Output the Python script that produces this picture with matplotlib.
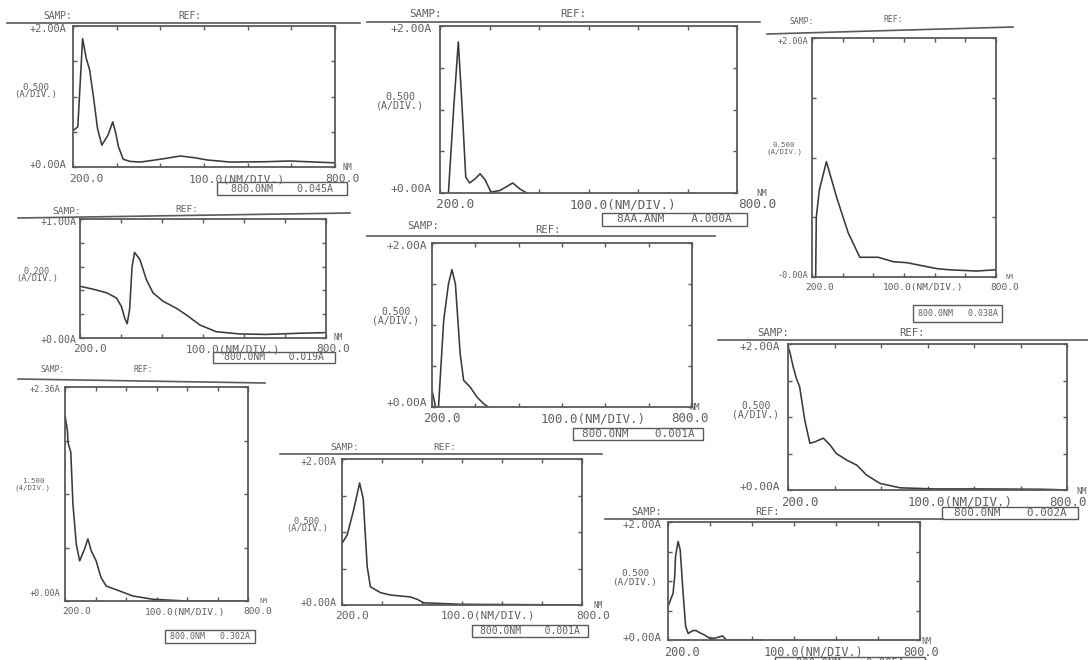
import numpy as np
import matplotlib
matplotlib.use("Agg")
import matplotlib.pyplot as plt
from matplotlib.lines import Line2D
from matplotlib.patches import Rectangle

# ---------------- data (wavelength nm, absorbance A) ----------------
A_nm = [201, 211, 222, 230, 238, 247, 256, 266, 280, 291, 298, 304, 315, 330, 354, 400, 446, 480, 507, 560, 640, 697, 796]
A_abs = [0.52, 0.57, 1.82, 1.55, 1.38, 0.99, 0.55, 0.31, 0.45, 0.64, 0.48, 0.29, 0.11, 0.08, 0.07, 0.11, 0.156, 0.13, 0.10, 0.07, 0.075, 0.085, 0.06]

B_nm = [217, 228, 237, 244, 252, 260, 271, 281, 291, 303, 321, 347, 361, 375]
B_abs = [0.0, 1.05, 1.81, 1.10, 0.19, 0.12, 0.17, 0.23, 0.16, 0.01, 0.03, 0.12, 0.05, 0.0]

C_nm = [212, 214, 224, 247, 280, 318, 356, 416, 465, 509, 607, 650, 737, 797]
C_abs = [0.0, 0.50, 0.73, 0.965, 0.67, 0.37, 0.165, 0.165, 0.128, 0.12, 0.07, 0.06, 0.05, 0.06]

D_nm = [200, 232, 265, 289, 301, 309, 315, 321, 327, 333, 346, 362, 378, 402, 435, 459, 492, 532, 589, 654, 736, 797]
D_abs = [0.435, 0.41, 0.38, 0.336, 0.265, 0.167, 0.12, 0.24, 0.60, 0.72, 0.66, 0.49, 0.38, 0.31, 0.25, 0.195, 0.11, 0.053, 0.034, 0.03, 0.04, 0.045]

E_nm = [200, 205, 208, 215, 227, 238, 246, 254, 265, 273, 288, 304, 319, 330]
E_abs = [0.20, 0.08, 0.0, 0.0, 1.06, 1.50, 1.675, 1.50, 0.65, 0.325, 0.244, 0.12, 0.04, 0.0]

F_nm = [200, 204, 211, 218, 225, 236, 247, 258, 276, 290, 304, 326, 348, 369, 398, 441, 513, 620, 750, 800]
F_abs = [1.96, 1.89, 1.69, 1.53, 1.415, 0.96, 0.64, 0.66, 0.71, 0.62, 0.50, 0.41, 0.34, 0.205, 0.09, 0.03, 0.015, 0.015, 0.01, 0.0]

G_nm = [201, 208, 210, 219, 226, 237, 248, 264, 275, 286, 302, 318, 335, 379, 422, 488, 596, 800]
G_abs = [1.72, 1.59, 1.48, 1.39, 0.906, 0.53, 0.375, 0.485, 0.58, 0.47, 0.375, 0.22, 0.14, 0.094, 0.047, 0.016, 0.0, 0.0]

H_nm = [200, 213, 229, 244, 253, 263, 271, 296, 321, 371, 388, 404, 496, 796]
H_abs = [0.845, 0.96, 1.30, 1.67, 1.46, 0.525, 0.25, 0.17, 0.137, 0.11, 0.078, 0.03, 0.01, 0.0]

I_nm = [200, 212, 216, 218, 224, 229, 236, 242, 248, 259, 267, 275, 287, 299, 311, 330, 339, 426]
I_abs = [0.57, 0.79, 1.08, 1.42, 1.67, 1.53, 0.79, 0.23, 0.11, 0.16, 0.16, 0.125, 0.085, 0.03, 0.03, 0.07, 0.0, 0.0]

# ---------------- text ----------------
top_labels = ["+2.00A", "+2.00A", "+2.00A", "+1.00A", "+2.00A", "+2.00A", "+2.36A", "+2.00A", "+2.00A"]
bottom_labels = ["+0.00A", "+0.00A", "-0.00A", "+0.00A", "+0.00A", "+0.00A", "+0.00A", "+0.00A", "+0.00A"]
scale_labels = ["0.500", "0.500", "0.500", "0.200", "0.500", "0.500", "1.500", "0.500", "0.500"]
unit_labels = ["(A/DIV.)", "(A/DIV.)", "(A/DIV.)", "(A/DIV.)", "(A/DIV.)", "(A/DIV.)", "(4/DIV.)", "(A/DIV.)", "(A/DIV.)"]
readouts = ["800.0NM    0.045A", "8AA.ANM    A.000A", "800.0NM   0.038A", "800.0NM    0.019A",
            "800.0NM    0.001A", "800.0NM    0.002A", "800.0NM   0.302A", "800.0NM    0.001A",
            "800.0NM    0.005A"]

W, H = 1088, 660
fig = plt.figure(figsize=(W / 100, H / 100), dpi=100)
fig.patch.set_facecolor("white")

TXT = "#606060"
LN = "#3a3a3a"
FR = "#5a5a5a"
MONO = "DejaVu Sans Mono"


def fx(x):
    return x / W


def fy(y):
    return 1 - y / H


def txt(x, y, s, fs, ha="center"):
    fig.text(fx(x), fy(y), s, ha=ha, va="center", family=MONO, fontsize=fs, color=TXT)


def hline(x1, y1, x2, y2):
    fig.add_artist(Line2D([fx(x1), fx(x2)], [fy(y1), fy(y2)], transform=fig.transFigure,
                          color=FR, lw=1.2))


def panel(i, box, nm, ab, ymax, ystep, hdr, samp, ref, left_x, mid, bot_y, x200, xmid, x800, rbox, fs,
          right_edge=False):
    l, t, r, b = box
    ax = fig.add_axes([fx(l), fy(b), fx(r - l), (b - t) / H])
    ax.set_xlim(200, 800)
    ax.set_ylim(0, ymax)
    ax.set_xticks(np.arange(200, 801, 100))
    ax.set_yticks(np.arange(0, ymax + 1e-9, ystep))
    ax.tick_params(direction="in", length=3, width=1, color=FR, top=True, right=True,
                   labelleft=False, labelbottom=False)
    for s in ax.spines.values():
        s.set_color(FR)
        s.set_linewidth(1.3)
    ax.patch.set_alpha(0)
    ax.plot(nm, ab, color=LN, lw=1.15, clip_on=True)
    hline(*hdr)
    txt(samp[0], samp[1], "SAMP:", fs * 0.85)
    txt(ref[0], ref[1], "REF:", fs * 0.85)
    txt(left_x, t + 3, top_labels[i], fs * 0.9, ha="right")
    txt(left_x, bot_y, bottom_labels[i], fs * 0.9, ha="right")
    sfs = fs * 0.78
    gap = sfs * 0.62
    txt(mid[0], mid[1] + 3 - gap, scale_labels[i], sfs)
    txt(mid[0], mid[1] + 3 + gap, unit_labels[i], sfs)
    ylab = b + (12 if fs > 8 else 11)
    txt(x200, ylab, "200.0", fs)
    txt(xmid, ylab, "100.0(NM/DIV.)", fs)
    if right_edge:
        txt(W - 1, ylab, "800.0", fs, ha="right")
        txt(W - 1, ylab - 11, "NM", fs * 0.7, ha="right")
    else:
        txt(x800, ylab, "800.0", fs)
        txt(x800 + 5, ylab - 11, "NM", fs * 0.7)
    x1, y1, x2, y2 = rbox
    fig.add_artist(Rectangle((fx(x1), fy(y2)), fx(x2 - x1), (y2 - y1) / H, transform=fig.transFigure,
                             fill=False, ec=FR, lw=1.0))
    txt((x1 + x2) / 2, (y1 + y2) / 2, readouts[i], fs * 0.88)
    return ax


# A  top-left
panel(0, (73, 26, 335, 167), A_nm, A_abs, 2.0, 0.5, (7, 23, 360, 23), (58, 16), (190, 16),
      66, (36, 88), 165, 86, 237, 342, (217, 182, 347, 195), 8.2)
# B  top-middle
panel(1, (440, 26, 737, 193), B_nm, B_abs, 2.0, 0.5, (367, 22, 760, 22), (425, 14), (573, 14),
      432, (400, 98), 189, 455, 623, 757, (602, 213, 747, 226), 9.2)
# C  top-right
panel(2, (812, 38, 996, 277), C_nm, C_abs, 2.0, 0.5, (767, 34, 1013, 27), (802, 22), (893, 20),
      808, (784, 145), 276, 820, 923, 1005, (913, 305, 1002, 322), 6.8)
# D  middle-left
panel(3, (80, 219, 326, 338), D_nm, D_abs, 1.0, 0.2, (18, 218, 350, 213), (67, 211), (187, 209),
      77, (37, 272), 340, 90, 233, 333, (213, 352, 335, 363), 8.0)
# E  center
panel(4, (432, 243, 692, 407), E_nm, E_abs, 2.0, 0.5, (367, 236, 715, 236), (423, 226), (548, 230),
      427, (396, 313), 403, 442, 593, 690, (573, 428, 703, 440), 9.0)
# F  right-middle
panel(5, (788, 344, 1067, 490), F_nm, F_abs, 2.0, 0.5, (718, 340, 1088, 340), (773, 333), (912, 333),
      780, (756, 407), 487, 800, 960, 1083, (942, 507, 1078, 519), 9.0, right_edge=True)
# G  bottom-left
panel(6, (65, 387, 248, 601), G_nm, G_abs, 2.0, 0.5, (18, 379, 265, 383), (53, 370), (143, 370),
      60, (33, 481), 593, 77, 185, 258, (165, 630, 255, 643), 6.8)
# H  bottom-middle
panel(7, (342, 459, 582, 605), H_nm, H_abs, 2.0, 0.5, (280, 454, 602, 454), (345, 447), (445, 447),
      337, (307, 522), 603, 352, 488, 593, (472, 625, 588, 637), 8.0)
# I  bottom-right
panel(8, (668, 522, 920, 640), I_nm, I_abs, 2.0, 0.5, (605, 519, 943, 519), (647, 512), (767, 512),
      662, (635, 575), 638, 682, 813, 921, (775, 657, 925, 670), 8.6)

fig.savefig("out.png", dpi=100, facecolor="white")
